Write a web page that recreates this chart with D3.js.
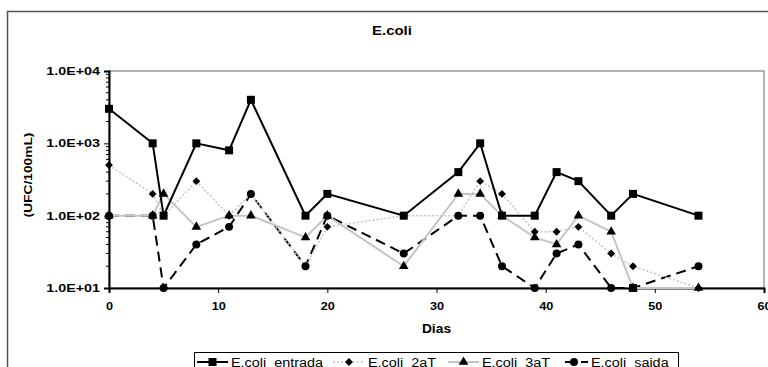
<!DOCTYPE html>
<html>
<head>
<meta charset="utf-8">
<script src="https://cdn.jsdelivr.net/npm/d3@7"></script>
<style>
	body { margin: 0; background: #fff; }
	svg { display: block; font-family: "Liberation Sans", Arial, sans-serif; }
	text { white-space: pre; }
</style>
</head>
<body>
<svg id="vis" width="768" height="367"></svg>
<script>
	// Values (days, and counts in UFC/100mL)
	const days    = [0, 4, 5, 8, 11, 13, 18, 20, 27, 32, 34, 36, 39, 41, 43, 46, 48, 54];
	const entrada = [3000, 1000, 100, 1000, 800, 4000, 100, 200, 100, 400, 1000, 100, 100, 400, 300, 100, 200, 100];
	const aT2     = [500, 200, 100, 300, 100, 200, 20, 70, 100, 100, 300, 200, 60, 60, 70, 30, 20, 10];
	const aT3     = [100, 100, 200, 70, 100, 100, 50, 100, 20, 200, 200, 100, 50, 40, 100, 60, 10, 10];
	const saida   = [100, 100, 10, 40, 70, 200, 20, 100, 30, 100, 100, 20, 10, 30, 40, 10, 10, 20];

	const seriesNames = ["E.coli  entrada", "E.coli  2aT", "E.coli  3aT", "E.coli  saida"];
	const xTicks = [0, 10, 20, 30, 40, 50, 60];
	const yTicks = [10, 100, 1000, 10000];

	const svg = d3.select("svg#vis");

	const plot = {left: 109, right: 764, top: 71, bottom: 288};

	const x = d3.scaleLinear().domain([0, 60]).range([plot.left, plot.right]);
	const y = d3.scaleLog().domain([10, 10000]).range([plot.bottom, plot.top]);

	// outer chart frame (runs past the window on the right and bottom)
	svg.append("rect")
		.attr("x", 7.5).attr("y", 11.5)
		.attr("width", 800).attr("height", 400)
		.attr("fill", "none").attr("stroke", "#555").attr("stroke-width", 1.5);

	// plot area frame
	svg.append("rect")
		.attr("x", plot.left).attr("y", plot.top)
		.attr("width", plot.right - plot.left).attr("height", plot.bottom - plot.top)
		.attr("fill", "none").attr("stroke", "#999").attr("stroke-width", 1.5);

	// title
	const title = svg.append("text")
		.attr("x", 392).attr("y", 35)
		.attr("text-anchor", "middle")
		.style("font-size", "13px").style("font-weight", "bold")
		.text("E.coli");

	// y axis with log minor ticks
	const minor = [];
	for (let p = 10; p < 10000; p *= 10) {
		for (let k = 2; k < 10; k++) minor.push(p * k);
	}
	const yAxis = svg.append("g")
		.attr("transform", translate(plot.left, 0))
		.call(d3.axisLeft(y).tickValues(yTicks).tickSize(5).tickPadding(4)
			.tickFormat(d => "1.0E+" + String(Math.round(Math.log10(d))).padStart(2, "0")));
	yAxis.selectAll("line.minor")
		.data(minor)
		.enter()
		.append("line")
		.attr("class", "minor")
		.attr("x1", -3).attr("x2", 0)
		.attr("y1", d => y(d)).attr("y2", d => y(d))
		.attr("stroke", "#000");

	const xAxis = svg.append("g")
		.attr("transform", translate(0, plot.bottom))
		.call(d3.axisBottom(x).tickValues(xTicks).tickSize(5).tickPadding(9));

	[yAxis, xAxis].forEach(function(a) {
		a.select(".domain").attr("stroke", "#000").attr("stroke-width", 2);
		a.selectAll("text")
			.style("font-size", "11px").style("font-weight", "bold")
			.attr("font-family", null).attr("fill", "#000");
	});

	// axis titles
	const yTitle = svg.append("text")
		.attr("transform", "translate(32,175) rotate(-90)")
		.attr("text-anchor", "middle")
		.style("font-size", "11px").style("font-weight", "bold")
		.text("(UFC/100mL)");

	const xTitle = svg.append("text")
		.attr("x", (plot.left + plot.right) / 2).attr("y", 333)
		.attr("text-anchor", "middle")
		.style("font-size", "12px").style("font-weight", "bold")
		.text("Dias");

	// series styling
	const styles = [
		{values: entrada, stroke: "#000", width: 2, dash: null, marker: d3.symbolSquare, size: 64},
		{values: aT2, stroke: "#c4c4c4", width: 1.5, dash: "2,2", marker: d3.symbolDiamond2, size: 40},
		{values: aT3, stroke: "#c4c4c4", width: 2, dash: null, marker: d3.symbolTriangle, size: 40},
		{values: saida, stroke: "#000", width: 2, dash: "10,6", marker: d3.symbolCircle, size: 50}
	];

	const line = d3.line()
		.x(d => x(d[0]))
		.y(d => y(d[1]));

	const g = svg.append("g");

	// draw lines bottom to top like the original: saida, 3aT, 2aT, entrada
	[3, 2, 1, 0].forEach(function(i) {
		const s = styles[i];
		const pts = days.map((d, j) => [d, s.values[j]]);
		g.append("path")
			.datum(pts)
			.attr("d", line)
			.attr("fill", "none")
			.attr("stroke", s.stroke)
			.attr("stroke-width", s.width)
			.attr("stroke-dasharray", s.dash);
	});

	[3, 2, 1, 0].forEach(function(i) {
		const s = styles[i];
		const pts = days.map((d, j) => [d, s.values[j]]);
		g.selectAll(null)
			.data(pts)
			.enter()
			.append("path")
			.attr("transform", d => translate(x(d[0]), y(d[1])))
			.attr("d", function(d) {
				// in the original the saida point at day 48 shows a square marker
				if (i === 3 && d[0] === 48) return d3.symbol(d3.symbolSquare, 64)();
				return d3.symbol(s.marker, s.size)();
			})
			.attr("fill", "#000");
	});

	// legend
	const legend = svg.append("g");
	legend.append("rect")
		.attr("x", 194.5).attr("y", 352.5)
		.attr("width", 484).attr("height", 30)
		.attr("fill", "#fff").attr("stroke", "#000").attr("stroke-width", 1);

	const legendX = [197, 333, 448, 565];
	const legendW = [31, 32, 31, 23];
	seriesNames.forEach(function(name, i) {
		const s = styles[i];
		const lx = legendX[i], ly = 362;
		legend.append("line")
			.attr("x1", lx).attr("x2", lx + legendW[i])
			.attr("y1", ly).attr("y2", ly)
			.attr("stroke", s.stroke)
			.attr("stroke-width", s.width)
			.attr("stroke-dasharray", i === 3 ? "12,4" : s.dash);
		legend.append("path")
			.attr("transform", translate(lx + (i === 3 ? 9 : legendW[i] / 2), ly))
			.attr("d", d3.symbol(s.marker, s.size)())
			.attr("fill", "#000");
		legend.append("text")
			.attr("class", "legend-label")
			.attr("x", lx + legendW[i] + 3).attr("y", ly + 4.5)
			.style("font-size", "12px")
			.text(name);
	});

	// the original's lettering is wider than Arial: stretch it horizontally
	stretch(title, 1.15);
	stretch(yAxis.selectAll(".tick text"), 1.3);
	stretch(xAxis.selectAll(".tick text"), 1.15);
	stretch(yTitle, 1.25);
	stretch(xTitle, 1.15);
	stretch(legend.selectAll("text.legend-label"), 1.2);

	function stretch(sel, k) {
		sel.each(function() {
			const w = this.getComputedTextLength();
			d3.select(this)
				.attr("textLength", w * k)
				.attr("lengthAdjust", "spacingAndGlyphs");
		});
	}

	function translate(a, b) {
		return "translate(" + a + "," + b + ")";
	}
</script>
</body>
</html>
